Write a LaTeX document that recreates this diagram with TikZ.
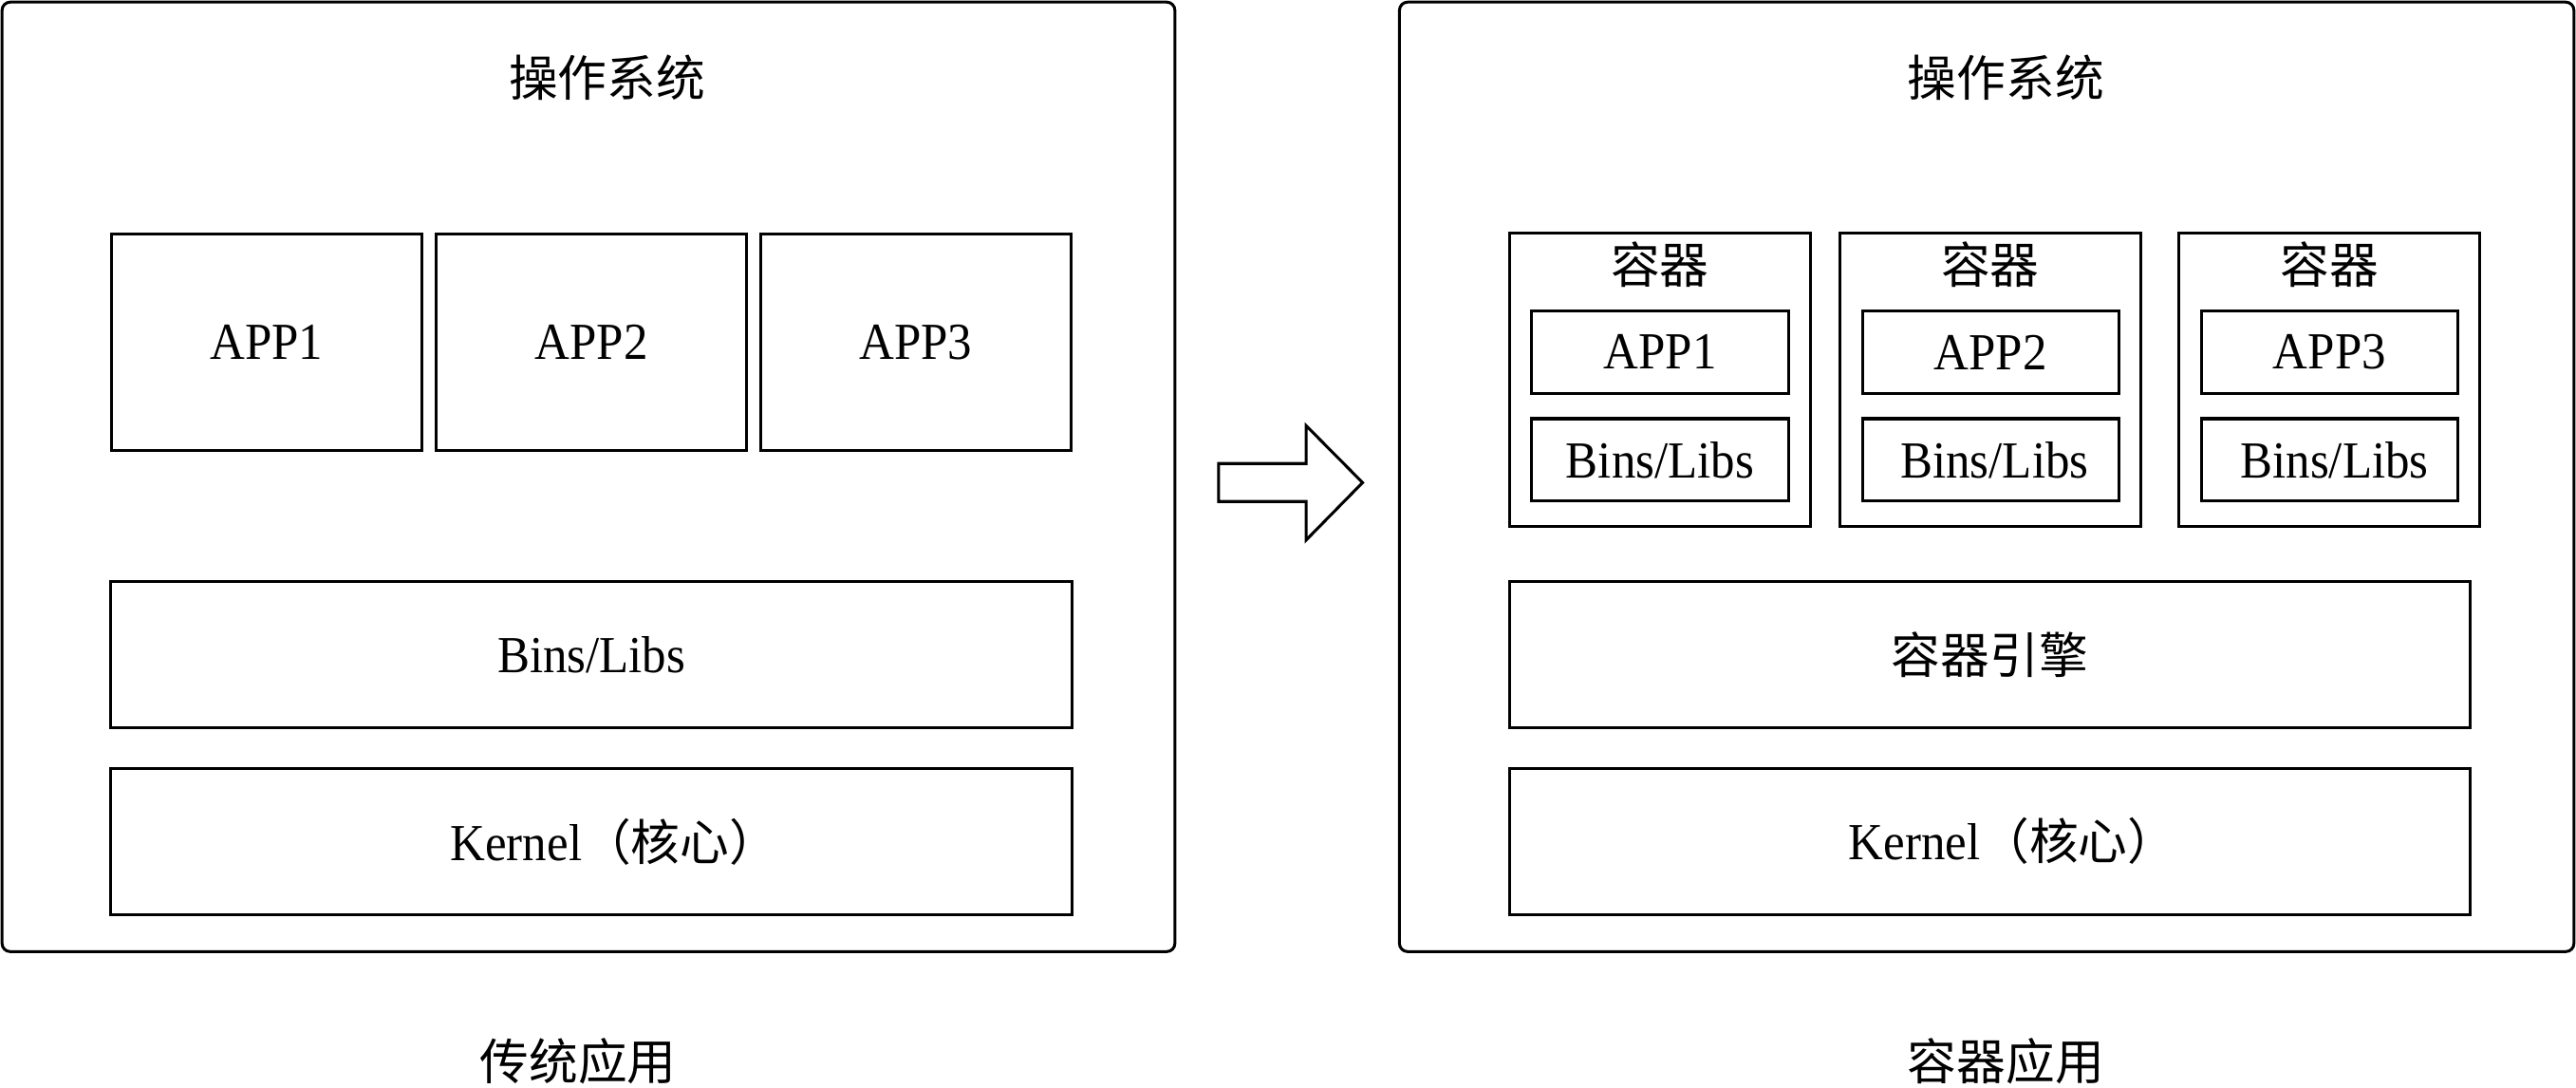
\documentclass[tikz,border=0pt]{standalone}
\usepackage{fontspec}
\setmainfont{Liberation Serif}[FakeStretch=0.93]
\newfontfamily\cjk{Noto Sans CJK SC}
\newcommand{\zh}[1]{{\cjk\fontsize{8.5pt}{10pt}\selectfont #1}}
\usepackage{tikz}
\tikzset{>=latex}
\tikzset{
  osbox/.style={draw, line width=0.5pt, rounded corners=0.05cm, inner sep=0pt},
  appbox/.style={draw, line width=0.5pt, inner sep=0pt, minimum width=1.89cm, minimum height=1.32cm},
  layer/.style={draw, line width=0.5pt, inner sep=0pt, minimum width=5.845cm, minimum height=0.89cm},
  ctbox/.style={draw, line width=0.5pt, inner sep=0pt, minimum width=1.83cm, minimum height=1.78cm},
  inbox/.style={draw, line width=0.5pt, inner sep=0pt, minimum width=1.56cm, minimum height=0.50cm},
  txt/.style={inner sep=0pt, font=\fontsize{9pt}{11pt}\selectfont}
}

\begin{document}
\begin{tikzpicture}[x=0.01cm, y=-0.01cm, every node/.style={txt}]
      \useasboundingbox (0,0) rectangle (1568,662.1);
      % traditional
      \node[osbox, minimum width=7.135cm, minimum height=5.775cm] (osL) at (358.2,290.2) {};
      \node (titleL) at (369.5,47.2) {\zh{操作系统}};
      \node[appbox] (appL1) at (162.3,208.3) {APP1};
      \node[appbox] (appL2) at (360,208.3) {APP2};
      \node[appbox] (appL3) at (557.4,208.3) {APP3};
      \node[layer] (binsL) at (360,398.6) {Bins/Libs};
      \node[layer] (kernelL) at (360,512.3) {\hspace{0.28cm}Kernel\zh{（核心）}};
      \node (capL) at (352,646) {\zh{传统应用}};
      % arrow
      \coordinate (a1) at (741.8,282.1);
      \coordinate (a2) at (795,282.1);
      \coordinate (a3) at (795,259);
      \coordinate (a4) at (829.4,293.7);
      \coordinate (a5) at (795,328.7);
      \coordinate (a6) at (795,305.2);
      \coordinate (a7) at (741.8,305.2);
      \draw[line width=0.5pt] (a1) -- (a2) -- (a3) -- (a4) -- (a5) -- (a6) -- (a7) -- cycle;
      % containers
      \node[osbox, minimum width=7.145cm, minimum height=5.775cm] (osR) at (1209.3,290.2) {};
      \node (titleR) at (1221,47.2) {\zh{操作系统}};
      \node[ctbox] (ct1) at (1010.4,231.1) {};
      \node[ctbox] (ct2) at (1211.4,231.1) {};
      \node[ctbox] (ct3) at (1418,231.1) {};
      \node (ctlab1) at (1010.4,160.8) {\zh{容器}};
      \node (ctlab2) at (1211.4,160.8) {\zh{容器}};
      \node (ctlab3) at (1418,160.8) {\zh{容器}};
      \node[inbox] (appR1) at (1010.5,214.3) {APP1};
      \node[inbox] (appR2) at (1211.6,214.3) {APP2};
      \node[inbox] (appR3) at (1418,214.3) {APP3};
      \node[inbox] (binsR1) at (1010.5,279.8) {Bins/Libs};
      \node[inbox] (binsR2) at (1211.6,279.8) {\hspace{0.05cm}Bins/Libs};
      \node[inbox] (binsR3) at (1418,279.8) {\hspace{0.06cm}Bins/Libs};
      \node[layer] (engine) at (1211.2,398.5) {\zh{容器引擎}};
      \node[layer] (kernelR) at (1211.2,512) {\hspace{0.28cm}Kernel\zh{（核心）}};
      \node (capR) at (1221,646) {\zh{容器应用}};
    \end{tikzpicture}
\end{document}
